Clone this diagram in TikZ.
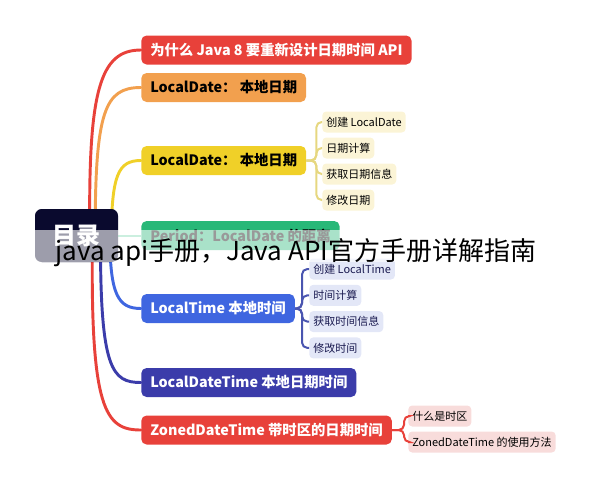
\documentclass[tikz,border=0pt]{standalone}
\usepackage{fontspec}
\setmainfont{Noto Sans CJK SC}
\usepackage{xcolor}
\definecolor{rootcolor}{RGB}{10,10,46}
\definecolor{redtopic}{RGB}{232,65,58}
\definecolor{orangetopic}{RGB}{242,160,78}
\definecolor{yellowtopic}{RGB}{240,208,40}
\definecolor{greentopic}{RGB}{40,184,120}
\definecolor{bluetopic}{RGB}{63,102,224}
\definecolor{indigotopic}{RGB}{59,60,170}
\definecolor{greenline}{RGB}{127,216,176}
\definecolor{yellowsub}{RGB}{251,244,214}
\definecolor{bluesub}{RGB}{227,231,247}
\definecolor{pinksub}{RGB}{248,220,219}
\definecolor{yellowtwig}{RGB}{230,215,128}
\definecolor{bluetwig}{RGB}{74,85,176}
\definecolor{subtext}{RGB}{26,26,80}
\pgfdeclarelayer{bg}
\pgfsetlayers{bg,main}

\begin{document}
\begin{tikzpicture}[x=0.75pt,y=-0.75pt,
    topic/.style={rounded corners=4pt, minimum height=21.75pt, inner xsep=6.75pt, anchor=west,
        font=\bfseries\fontsize{10.75}{13}\selectfont},
    subtopic/.style={rounded corners=3pt, minimum height=15.75pt, inner xsep=3pt, anchor=west,
        font=\fontsize{8.25}{10}\selectfont},
    branch/.style={line width=2.2pt, line cap=round},
    twig/.style={line width=1.5pt, rounded corners=4pt}]
    \useasboundingbox (0,0) rectangle (591,490);

    % root and main topics
    \node[fill=rootcolor, text=white, rounded corners=5pt, minimum width=62.25pt, minimum height=39.75pt,
        font=\bfseries\fontsize{18}{20}\selectfont] (root) at (76.5,235.5) {目录};
    \node[topic, fill=redtopic, text=white] (why) at (141,50) {为什么 Java 8 要重新设计日期时间 API};
    \node[topic, fill=orangetopic] (date1) at (141,87.5) {LocalDate： 本地日期};
    \node[topic, fill=yellowtopic] (date2) at (141,160.5) {LocalDate： 本地日期};
    \node[topic, fill=greentopic] (period) at (141,235.5) {Period：LocalDate 的距离};
    \node[topic, fill=bluetopic, text=white] (time) at (141,308.5) {LocalTime 本地时间};
    \node[topic, fill=indigotopic, text=white] (datetime) at (141,382.5) {LocalDateTime 本地日期时间};
    \node[topic, fill=redtopic, text=white] (zoned) at (141,430) {ZonedDateTime 带时区的日期时间};

    % sub topics
    \foreach \t [count=\i] in {创建 LocalDate, 日期计算, 获取日期信息, 修改日期}
        \node[subtopic, fill=yellowsub] (dsub\i) at (322,96+26*\i) {\t};
    \foreach \t [count=\i] in {创建 LocalTime, 时间计算, 获取时间信息, 修改时间}
        \node[subtopic, fill=bluesub, text=subtext] (tsub\i) at (309,242.7+26.3*\i) {\t};
    \foreach \t [count=\i] in {什么是时区, ZonedDateTime 的使用方法}
        \node[subtopic, fill=pinksub] (zsub\i) at (408,390+26*\i) {\t};

    % branches
    \begin{pgfonlayer}{bg}
        \draw[branch, redtopic] ([xshift=10pt]root.center) .. controls (88,90) and (100,50) .. (why.west);
        \draw[branch, orangetopic] ([xshift=14pt]root.center) .. controls (95,110) and (105,87.5) .. (date1.west);
        \draw[branch, yellowtopic] ([xshift=26pt]root.center) .. controls (112,175) and (118,160.5) .. (date2.west);
        \draw[line width=1.5pt, greenline] (root.center) -- (period.west);
        \draw[branch, bluetopic] ([xshift=25pt]root.center) .. controls (110,295) and (118,308.5) .. (time.west);
        \draw[branch, indigotopic] ([xshift=18pt]root.center) .. controls (100,370) and (112,382.5) .. (datetime.west);
        \draw[branch, redtopic] ([xshift=12pt]root.center) .. controls (90,410) and (105,430) .. (zoned.west);
    \end{pgfonlayer}
    \foreach \i in {1,...,4}
        \draw[twig, yellowtwig] (date2.east) -- ++(10,0) |- (dsub\i.west);
    \foreach \i in {1,...,4}
        \draw[twig, bluetwig] (time.east) -- ++(7,0) |- (tsub\i.west);
    \foreach \i in {1,2}
        \draw[twig, redtopic] (zoned.east) -- ++(12,0) |- (zsub\i.west);

    % caption band
    \fill[white, opacity=0.6] (30,230) rectangle (565,262);
    \node[anchor=base west, inner sep=0pt, font=\fontsize{19.5}{22}\selectfont] (caption) at (55,260) {java api手册，Java API官方手册详解指南};
\end{tikzpicture}
\end{document}
